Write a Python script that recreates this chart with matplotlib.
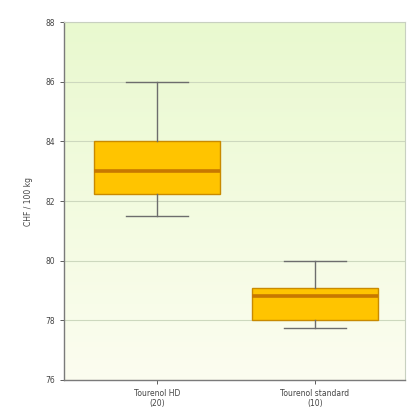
import numpy as np
import matplotlib
matplotlib.use("Agg")
from matplotlib import pyplot as plt
from matplotlib.colors import LinearSegmentedColormap

# Data
labels = ["Tourenol HD\n(20)", "Tourenol standard\n(10)"]
whisker_low = [81.5, 77.75]
q1 = [82.25, 78.0]
median = [83.0, 78.8]
q3 = [84.0, 79.1]
whisker_high = [86.0, 80.0]
y_ticks = [76, 78, 80, 82, 84, 86, 88]

fig = plt.figure(figsize=(4.12, 4.18), dpi=100)
ax = fig.add_axes([0.155, 0.091, 0.828, 0.856])

# Gradient background: light green at top fading to cream at bottom
cmap = LinearSegmentedColormap.from_list("bg", ["#fcfdf0", "#e9f9cf"])
grad = np.linspace(0, 1, 256).reshape(-1, 1)
ax.imshow(grad, cmap=cmap, aspect="auto", origin="lower",
          extent=[0, 1, 0, 1], transform=ax.transAxes, zorder=0)

stats = []
for i in range(len(labels)):
    stats.append({"whislo": whisker_low[i], "q1": q1[i], "med": median[i],
                  "q3": q3[i], "whishi": whisker_high[i], "fliers": []})

ax.bxp(stats, positions=[1, 2], widths=0.8, patch_artist=True,
       showfliers=False,
       boxprops=dict(facecolor="#ffc400", edgecolor="#c98a00", linewidth=1.0),
       medianprops=dict(color="#c77800", linewidth=2.6),
       whiskerprops=dict(color="#6d6d6d", linewidth=1.0),
       capprops=dict(color="#6d6d6d", linewidth=1.0),
       capwidths=0.39, zorder=3)

ax.set_ylim(76, 88)
ax.set_xlim(0.41, 2.57)
ax.set_yticks(y_ticks)
ax.set_yticklabels([str(v) for v in y_ticks])
ax.set_xticks([1, 2])
ax.set_xticklabels(labels)
ax.yaxis.grid(True, color="#cdd8be", linewidth=0.8, zorder=1)
ax.set_axisbelow(True)

for side in ["left", "bottom"]:
    ax.spines[side].set_color("#7a7a7a")
    ax.spines[side].set_linewidth(1.0)
for side in ["right", "top"]:
    ax.spines[side].set_color("#c8d0c0")

ax.tick_params(axis="both", labelsize=5.5, colors="#444444", length=3,
               width=0.6)
ax.set_ylabel("CHF / 100 kg", fontsize=5.5, color="#444444", labelpad=9)

fig.savefig("out.png", dpi=100, facecolor="white")
